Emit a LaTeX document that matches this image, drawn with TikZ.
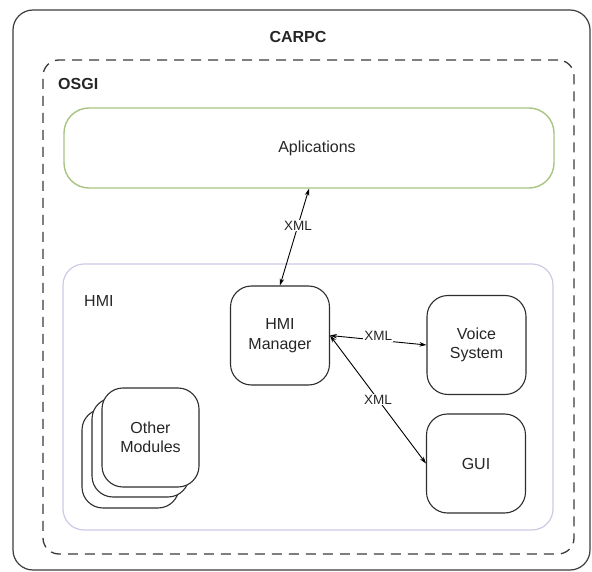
\documentclass[tikz,border=0pt]{standalone}
\usepackage{fontspec}
\setmainfont{Liberation Sans}
\usetikzlibrary{arrows.meta}
\definecolor{framegray}{HTML}{3C3C3C}
\definecolor{dashgray}{HTML}{3A3A3A}
\definecolor{appgreen}{HTML}{A8C482}
\definecolor{hmilav}{HTML}{CFC8E6}
\definecolor{boxline}{HTML}{2E2E2E}
\definecolor{txt}{HTML}{262626}
\tikzset{
  boxfont/.style={font=\fontsize{16}{19.5}\selectfont, text=txt},
  container/.style={draw, rounded corners=#1, inner sep=0pt},
  module/.style={draw=boxline, line width=1.1pt, fill=white, rounded corners=21pt,
    minimum width=99pt, minimum height=99pt, inner sep=0pt, align=center, boxfont},
  title/.style={font=\fontsize{16}{19}\selectfont\bfseries, text=txt, inner sep=0pt},
  plain/.style={boxfont, inner sep=0pt},
  link/.style={draw=black, line width=0.9pt, {Stealth[length=7pt,width=4.5pt]}-{Stealth[length=7pt,width=4.5pt]}},
  xmltag/.style={font=\fontsize{13.5}{16}\selectfont, text=txt, fill=white, inner sep=1pt}
}
\begin{document}
\begin{tikzpicture}[x=1pt,y=-1pt]
  \useasboundingbox (0,0) rectangle (592,572);

  % nested containers
  \node[container=20pt, draw=framegray, line width=1.2pt,
        minimum width=577pt, minimum height=560pt] (carpc) at (301.5,290) {};
  \node[container=16pt, draw=dashgray, line width=1.3pt, dash pattern=on 10pt off 7pt,
        minimum width=531pt, minimum height=494pt] (osgi) at (308.5,307) {};
  \node[container=25pt, draw=appgreen, line width=1.4pt,
        minimum width=490pt, minimum height=80pt, boxfont] (apps) at (309,148) {\hspace*{16pt}Aplications};
  \node[container=21pt, draw=hmilav, line width=1.2pt,
        minimum width=490pt, minimum height=266pt] (hmi) at (308,397) {};

  % container titles
  \node[title] (carpcname) at (298,37) {CARPC};
  \node[title, anchor=west] (osginame) at (58,84) {OSGI};
  \node[plain, anchor=west] (hminame) at (84,301) {HMI};

  % HMI components
  \node[module] (mgr) at (280,335.5) {HMI\\Manager};
  \node[module] (voice) at (476.5,345) {Voice\\System};
  \node[module] (gui) at (476,463.5) {GUI};

  % stack of other modules
  \node[module, minimum width=97pt] (mod3) at (130.5,458.5) {};
  \node[module, minimum width=97pt] (mod2) at (140.5,447.5) {};
  \node[module, minimum width=97pt] (mod1) at (150.5,437.5) {Other\\Modules};

  % XML links
  \draw[link] (apps.south) -- node[xmltag, pos=0.38] {XML} (mgr.north);
  \draw[link] (mgr.east) -- node[xmltag, pos=0.5, yshift=4pt] {XML} (voice.west);
  \draw[link] (mgr.east) -- node[xmltag, pos=0.5] {XML} (gui.west);
\end{tikzpicture}
\end{document}
